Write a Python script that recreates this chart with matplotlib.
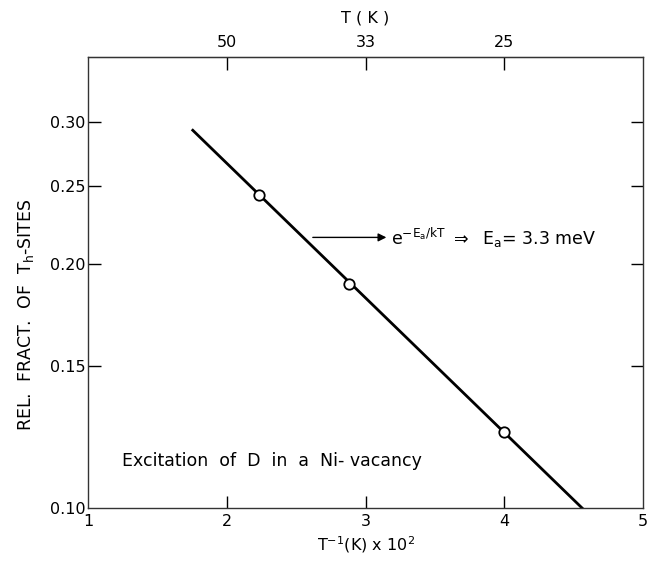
import matplotlib
matplotlib.use("Agg")
import matplotlib.pyplot as plt
import numpy as np

plt.rcParams['font.family'] = ['DejaVu Sans']
plt.rcParams['mathtext.fontset'] = 'dejavusans'

# data
inv_T = [2.23, 2.88, 4.00]          # T^-1 (K) x 10^2
rel_fract = [0.244, 0.189, 0.124]   # relative fraction of Th-sites
fit_x = [1.755, 4.56]
fit_y = [0.293, 0.100]
x_ticks = [1, 2, 3, 4, 5]
y_ticks = [0.10, 0.15, 0.20, 0.25, 0.30]
y_tick_labels = ["0.10", "0.15", "0.20", "0.25", "0.30"]
top_ticks = [2, 3, 4]
top_labels = ["50", "33", "25"]

fig = plt.figure(figsize=(6.47, 5.61), dpi=100)
ax = fig.add_axes([0.136, 0.0945, 0.858, 0.804])

ax.plot(fit_x, fit_y, color='black', lw=2.0, zorder=2)
ax.plot(inv_T, rel_fract, 'o', ms=7.5, mfc='white', mec='black', mew=1.3, zorder=3)

ax.set_yscale('log')
ax.set_xlim(1, 5)
ax.set_ylim(0.10, 0.361)
ax.set_xticks(x_ticks)
ax.set_xticklabels([str(v) for v in x_ticks])
ax.set_yticks(y_ticks)
ax.set_yticklabels(y_tick_labels)
ax.yaxis.set_minor_locator(matplotlib.ticker.NullLocator())
ax.tick_params(axis='both', which='major', direction='in', length=9, width=1.0,
               labelsize=11.5, right=True)
ax.tick_params(axis='x', pad=4)
ax.tick_params(axis='y', pad=2)

for t in ax.xaxis.get_major_ticks():
    if t.get_loc() in (1, 5):
        t.tick1line.set_visible(False)
        t.tick2line.set_visible(False)
for t in ax.yaxis.get_major_ticks():
    if abs(t.get_loc() - 0.10) < 1e-9:
        t.tick1line.set_visible(False)
        t.tick2line.set_visible(False)

for s in ax.spines.values():
    s.set_linewidth(1.0)
    s.set_color('#333333')

sec = ax.secondary_xaxis('top')
sec.set_xticks(top_ticks)
sec.set_xticklabels(top_labels)
sec.tick_params(direction='in', length=9, width=1.0, labelsize=11.5, pad=5)
sec.set_xlabel("T ( K )", fontsize=11.5, labelpad=9)

ax.set_xlabel(r"T$^{-1}$(K) x 10$^{2}$", fontsize=11.5, labelpad=4)
ax.set_ylabel(r"REL.  FRACT.  OF  T$_{\mathrm{h}}$-SITES", fontsize=12.5)
ax.yaxis.set_label_coords(-0.094, 0.428)

ax.annotate("", xy=(3.15, 0.216), xytext=(2.62, 0.216),
            arrowprops=dict(arrowstyle='-|>', color='black', lw=1.0,
                            mutation_scale=12, shrinkA=0, shrinkB=0))
ax.text(3.18, 0.216, r"e$^{-\mathrm{E_a/kT}}$ $\Rightarrow$  E$_\mathrm{a}$= 3.3 meV",
        fontsize=12.5, va='center', ha='left')

ax.text(1.245, 0.1143, "Excitation  of  D  in  a  Ni- vacancy", fontsize=12.5,
        va='center', ha='left')

fig.savefig("out.png", dpi=100)
